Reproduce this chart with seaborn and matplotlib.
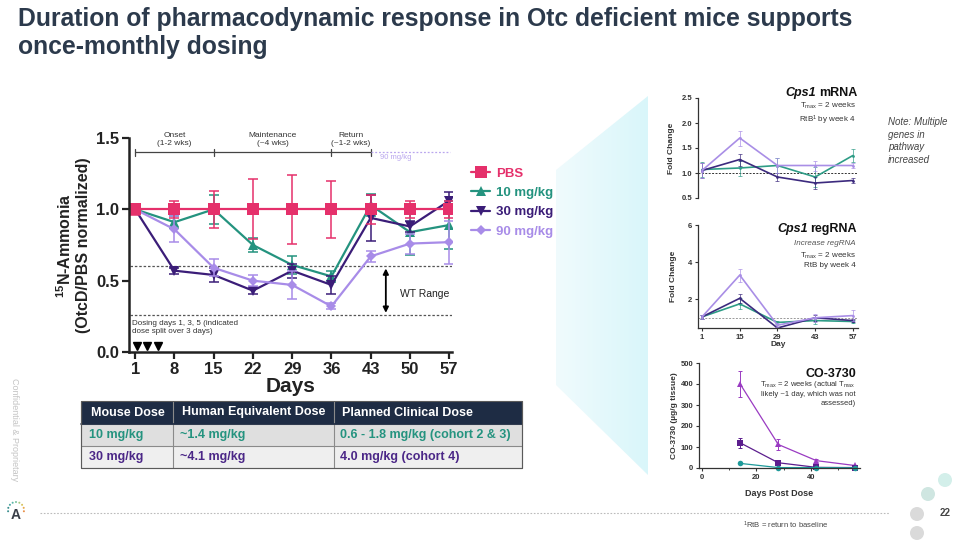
import numpy as np
import pandas as pd
import matplotlib
matplotlib.use("Agg")
import matplotlib.pyplot as plt
import seaborn as sns
from matplotlib.patches import Polygon, Rectangle, Circle
from matplotlib.colors import LinearSegmentedColormap
from matplotlib.offsetbox import TextArea, HPacker, AnnotationBbox

sns.set_theme(style="ticks")
plt.rcParams['font.family'] = ['Liberation Sans', 'DejaVu Sans']
plt.rcParams['mathtext.fontset'] = 'custom'
plt.rcParams['mathtext.rm'] = 'Liberation Sans'
plt.rcParams['mathtext.it'] = 'Liberation Sans:italic'
plt.rcParams['mathtext.bf'] = 'Liberation Sans:bold'

# ---------------- data: main chart ----------------
days = [1, 8, 15, 22, 29, 36, 43, 50, 57]
pbs = [1.0, 1.0, 1.0, 1.0, 1.0, 1.0, 1.0, 1.0, 1.0]
pbs_err = [0.04, 0.06, 0.13, 0.21, 0.24, 0.20, 0.10, 0.06, 0.06]
mg10 = [1.0, 0.91, 1.0, 0.75, 0.61, 0.53, 1.03, 0.84, 0.89]
mg10_err = [0.03, 0.04, 0.10, 0.05, 0.06, 0.04, 0.08, 0.16, 0.17]
mg30 = [1.0, 0.57, 0.54, 0.43, 0.57, 0.47, 0.94, 0.88, 1.06]
mg30_err = [0.03, 0.02, 0.05, 0.02, 0.05, 0.06, 0.16, 0.04, 0.06]
mg90 = [1.0, 0.86, 0.59, 0.50, 0.47, 0.32, 0.67, 0.76, 0.77]
mg90_err = [0.03, 0.09, 0.06, 0.04, 0.10, 0.02, 0.04, 0.07, 0.15]
series_names = ["PBS", "10 mg/kg", "30 mg/kg", "90 mg/kg"]

# ---------------- data: Cps1 mRNA / regRNA ----------------
rna_days = [1, 15, 29, 43, 57]
mrna_90 = [1.05, 1.70, 1.15, 1.15, 1.15]
mrna_90_err = [0.15, 0.15, 0.15, 0.10, 0.05]
mrna_30 = [1.05, 1.27, 0.92, 0.80, 0.85]
mrna_30_err = [0.15, 0.12, 0.08, 0.12, 0.05]
mrna_10 = [1.07, 1.10, 1.15, 0.92, 1.35]
mrna_10_err = [0.15, 0.15, 0.15, 0.20, 0.13]

reg_90 = [1.05, 3.30, 0.60, 1.00, 1.12]
reg_90_err = [0.10, 0.35, 0.10, 0.20, 0.30]
reg_30 = [1.05, 2.05, 0.45, 1.00, 0.85]
reg_30_err = [0.10, 0.25, 0.08, 0.15, 0.10]
reg_10 = [1.05, 1.75, 0.75, 0.85, 0.80]
reg_10_err = [0.10, 0.30, 0.10, 0.20, 0.10]

# ---------------- data: CO-3730 tissue levels ----------------
pk_days = [14, 28, 42, 56]
pk_90 = [400, 112, 35, 12]
pk_90_err = [60, 25, 6, 3]
pk_30 = [120, 25, 3, 2]
pk_30_err = [25, 6, 1, 1]
pk_10 = [22, 2, 2, 1]
pk_10_err = [4, 1, 1, 1]

# table
table_header = ["Mouse Dose", "Human Equivalent Dose", "Planned Clinical Dose"]
table_rows = [["10 mg/kg", "~1.4 mg/kg", "0.6 - 1.8 mg/kg (cohort 2 & 3)"],
              ["30 mg/kg", "~4.1 mg/kg", "4.0 mg/kg (cohort 4)"]]

C_PBS = "#E5306B"
C_10 = "#24937F"
C_30 = "#3B1D78"
C_90 = "#A88CE8"
TXT = "#222222"

W, H = 960, 556
fig = plt.figure(figsize=(W / 100, H / 100), dpi=100)
fig.patch.set_facecolor("white")

def fa(l, t, r, b):
    return fig.add_axes([l / W, 1 - b / H, (r - l) / W, (b - t) / H])

# overlay for decorations (pixel coords)
ov = fig.add_axes([0, 0, 1, 1], zorder=-1)
ov.set_xlim(0, W)
ov.set_ylim(H, 0)
ov.axis("off")

# cyan trapezoid with gradient
grad = np.linspace(0, 1, 256).reshape(1, -1)
cm = LinearSegmentedColormap.from_list("c", ["#F0FBFD", "#D9F6FA"])
im = ov.imshow(grad, cmap=cm, extent=[556, 648, 475, 96], aspect="auto", zorder=0)
trap = Polygon([[556, 170], [648, 96], [648, 475], [556, 385]], closed=True,
               facecolor="none", edgecolor="none", transform=ov.transData)
ov.add_patch(trap)
im.set_clip_path(trap)

# title
fig.text(18 / W, 1 - 7 / H,
         "Duration of pharmacodynamic response in Otc deficient mice supports\nonce-monthly dosing",
         ha="left", va="top", fontsize=17.8, fontweight="bold", color="#2C3A4C", linespacing=1.2)

# ---------------- main chart ----------------
ax = fa(129, 138, 452, 352)
ax.set_facecolor("none")
specs = [
    (mg10, mg10_err, C_10, "^", 7),
    (mg30, mg30_err, C_30, "v", 7),
    (mg90, mg90_err, C_90, "D", 5.5),
    (pbs, pbs_err, C_PBS, "s", 8),
]
labels_for = {C_PBS: "PBS", C_10: "10 mg/kg", C_30: "30 mg/kg", C_90: "90 mg/kg"}
for vals, err, c, m, ms in specs:
    sns.lineplot(x=days, y=vals, ax=ax, color=c, marker=m, markersize=ms,
                 markeredgewidth=0, linewidth=1.6, label=labels_for[c])
    ax.errorbar(days, vals, yerr=err, fmt="none", ecolor=c, elinewidth=1.1, capsize=3.5, capthick=1.1)

ax.set_xlim(-0.1, 57.5)
ax.set_ylim(0, 1.5)
ax.set_xticks(days)
ax.set_yticks([0.0, 0.5, 1.0, 1.5])
ax.set_yticklabels(["0.0", "0.5", "1.0", "1.5"])
for s in ["top", "right"]:
    ax.spines[s].set_visible(False)
for s in ["left", "bottom"]:
    ax.spines[s].set_linewidth(1.8)
    ax.spines[s].set_color(TXT)
ax.tick_params(axis="both", width=1.6, length=5, labelsize=12, colors=TXT, pad=2)
for t in ax.get_xticklabels() + ax.get_yticklabels():
    t.set_fontweight("bold")
ax.set_xlabel("Days", fontsize=15, fontweight="bold", color=TXT, labelpad=0)
ax.set_ylabel("$\\mathbf{^{15}}$N-Ammonia\n(OtcD/PBS normalized)", fontsize=11.5,
              fontweight="bold", color=TXT, labelpad=4, linespacing=1.15)

# reference lines
ax.plot([0, 57.5], [0.60, 0.60], ls=(0, (2, 1.5)), color="#555555", lw=0.9, zorder=0)
ax.plot([0, 57.5], [0.26, 0.26], ls=(0, (2, 1.5)), color="#555555", lw=0.9, zorder=0)
ax.annotate("", xy=(45.7, 0.255), xytext=(45.7, 0.605),
            arrowprops=dict(arrowstyle="<|-|>", color="black", lw=1.3, mutation_scale=8))
ax.text(48.3, 0.41, "WT Range", fontsize=7.5, color=TXT, va="center", ha="left")

# phase brackets
yb = 1.40
ax.plot([1, 43], [yb, yb], color="#444444", lw=0.9, clip_on=False)
for xv in [1, 15, 36, 43]:
    ax.plot([xv, xv], [yb - 0.025, yb + 0.025], color="#444444", lw=0.9, clip_on=False)
ax.plot([43, 57.2], [yb, yb], color="#B9A6EE", lw=0.9, ls=(0, (1.5, 1.5)), clip_on=False)
ax.text(47.5, 1.36, "90 mg/kg", color="#B9A6EE", fontsize=5.5, ha="center", va="center")
for xc, txt in [(8, "Onset\n(1-2 wks)"), (25.5, "Maintenance\n(~4 wks)"), (39.5, "Return\n(~1-2 wks)")]:
    ax.text(xc, 1.49, txt, ha="center", va="center", fontsize=6, color="#333333",
            linespacing=1.3, clip_on=False)

# dosing annotation
ax.text(0.5, 0.225, "Dosing days 1, 3, 5 (indicated\ndose split over 3 days)", fontsize=5.8,
        color="#333333", ha="left", va="top", linespacing=1.25)
ax.plot([1.3, 3.1, 5.1], [0.04, 0.04, 0.04], ls="none", marker="v", color="black", markersize=5.5, clip_on=False)

# legend
h, l = ax.get_legend_handles_labels()
order = [l.index(n) for n in series_names]
leg = ax.legend([h[i] for i in order], [l[i] for i in order], loc="upper left",
                bbox_to_anchor=(466 / W, 1 - 162 / H), bbox_transform=fig.transFigure,
                frameon=False, handlelength=1.4, handletextpad=0.5,
                labelspacing=0.55, borderaxespad=0, labelcolor="linecolor",
                prop={"weight": "bold", "size": 9.5})

# ---------------- table ----------------
col_x = [81, 173, 334, 522]
row_y = [401, 424, 446, 468]
ov.add_patch(Rectangle((81, 401), 441, 23, facecolor="#1E2C44", edgecolor="none", zorder=1))
ov.add_patch(Rectangle((81, 424), 441, 22, facecolor="#DFDFDF", edgecolor="none", zorder=1))
ov.add_patch(Rectangle((81, 446), 441, 22, facecolor="#EFEFEF", edgecolor="none", zorder=1))
for yy in row_y[1:]:
    ov.plot([81, 522], [yy, yy], color="#8A8A8A", lw=0.8, zorder=2)
for xx in col_x:
    ov.plot([xx, xx], [401, 468], color="#8A8A8A", lw=0.8, zorder=2)
ov.plot([81, 522], [424, 424], color="#1E2C44", lw=1.2, zorder=3)
ov.add_patch(Rectangle((81, 401), 441, 67, facecolor="none", edgecolor="#5A5A5A", lw=0.8, zorder=3))
text_x = [91, 182, 342]
for j, ttxt in enumerate(table_header):
    ov.text(text_x[j], 412.5, ttxt, color="white", fontsize=9, fontweight="bold", va="center", ha="left", zorder=4)
row_colors = [C_10, "#4B2787"]
for i, row in enumerate(table_rows):
    yc = (row_y[i + 1] + row_y[i + 2]) / 2
    for j, ttxt in enumerate(row):
        ov.text(text_x[j] - 2, yc, ttxt, color=row_colors[i], fontsize=9, fontweight="bold",
                va="center", ha="left", zorder=4)

# ---------------- right panels ----------------
def style_small(a, hide_bottom=False):
    a.set_facecolor("none")
    for s in ["top", "right"]:
        a.spines[s].set_visible(False)
    for s in ["left", "bottom"]:
        a.spines[s].set_linewidth(0.9)
        a.spines[s].set_color("#333333")
    if hide_bottom:
        a.spines["bottom"].set_visible(False)
        a.tick_params(axis="x", bottom=False, labelbottom=False)
    a.tick_params(axis="both", width=0.8, length=2.5, labelsize=5.5, colors="#333333", pad=1.5)
    for t in a.get_xticklabels() + a.get_yticklabels():
        t.set_fontweight("bold")

def draw_rna(a, dd, sets):
    for vals, err, c in sets:
        sns.lineplot(x=dd, y=vals, ax=a, color=c, linewidth=1.2, marker="o", markersize=2,
                     markeredgewidth=0)
        a.errorbar(dd, vals, yerr=err, fmt="none", ecolor=c, elinewidth=0.6, capsize=1.5, capthick=0.6, alpha=0.8)

def panel_title(x_px, y_px, italic_part, rest):
    ta1 = TextArea(italic_part, textprops=dict(fontsize=9, fontweight="bold", style="italic", color="#111111"))
    ta2 = TextArea(rest, textprops=dict(fontsize=9, fontweight="bold", color="#111111"))
    pk = HPacker(children=[ta1, ta2], pad=0, sep=1.8, align="baseline")
    ab = AnnotationBbox(pk, (x_px / W, 1 - y_px / H), xycoords="figure fraction",
                        box_alignment=(1, 0.5), frameon=False, pad=0)
    fig.add_artist(ab)

# panel 1: Cps1 mRNA
a1 = fa(698, 98, 858, 198)
a1.axhline(1.0, color="#333333", lw=0.7, ls=(0, (2, 1.5)), zorder=0)
draw_rna(a1, rna_days, [(mrna_10, mrna_10_err, "#2E9C86"), (mrna_30, mrna_30_err, "#3C2A7E"),
                        (mrna_90, mrna_90_err, "#A98EE6")])
a1.set_xlim(-0.5, 58.9)
a1.set_ylim(0.5, 2.5)
a1.set_yticks([0.5, 1.0, 1.5, 2.0, 2.5])
a1.set_yticklabels(["0.5", "1.0", "1.5", "2.0", "2.5"])
a1.set_ylabel("Fold Change", fontsize=6, fontweight="bold", color="#333333", labelpad=5)
style_small(a1, hide_bottom=True)
panel_title(857, 93, "Cps1", "mRNA")
fig.text(856 / W, 1 - 114 / H, "T$_{\\rm max}$ = 2 weeks\nRtB$^{1}$ by week 4", fontsize=5.8, ha="right",
         va="center", color="#333333", linespacing=1.25)
fig.text(888 / W, 1 - 141 / H, "Note: Multiple\ngenes in\npathway\nincreased", fontsize=7, style="italic",
         ha="left", va="center", color="#444444", linespacing=1.3)

# panel 2: Cps1 regRNA
a2 = fa(698, 225, 858, 328)
a2.axhline(1.0, color="#999999", lw=0.7, ls=(0, (2, 1.5)), zorder=0)
draw_rna(a2, rna_days, [(reg_10, reg_10_err, "#2E9C86"), (reg_30, reg_30_err, "#3C2A7E"),
                        (reg_90, reg_90_err, "#A98EE6")])
a2.set_xlim(-0.5, 58.9)
a2.set_ylim(0.45, 6)
a2.set_yticks([2, 4, 6])
a2.set_xticks(rna_days)
a2.set_ylabel("Fold Change", fontsize=6, fontweight="bold", color="#333333", labelpad=8)
a2.set_xlabel("Day", fontsize=6, fontweight="bold", color="#333333", labelpad=0)
style_small(a2)
panel_title(857, 229, "Cps1", "regRNA")
fig.text(856 / W, 1 - 244 / H, "Increase regRNA", fontsize=5.8, style="italic", ha="right", va="center", color="#555555")
fig.text(856 / W, 1 - 260 / H, "T$_{\\rm max}$ = 2 weeks\nRtB by week 4", fontsize=5.8, ha="right",
         va="center", color="#333333", linespacing=1.25)

# panel 3: CO-3730
a3 = fa(699, 363, 860, 468)
sns.lineplot(x=pk_days, y=pk_90, ax=a3, color="#9A3BC2", marker="^", markersize=4.5, markeredgewidth=0, linewidth=0.9)
a3.errorbar(pk_days, pk_90, yerr=pk_90_err, fmt="none", ecolor="#9A3BC2", elinewidth=0.7, capsize=1.5, capthick=0.7)
sns.lineplot(x=pk_days, y=pk_30, ax=a3, color="#5C1E8E", marker="s", markersize=4.5, markeredgewidth=0, linewidth=0.9)
a3.errorbar(pk_days, pk_30, yerr=pk_30_err, fmt="none", ecolor="#5C1E8E", elinewidth=0.7, capsize=1.5, capthick=0.7)
sns.lineplot(x=pk_days, y=pk_10, ax=a3, color="#1E9A9A", marker="o", markersize=4, markeredgewidth=0, linewidth=0.9)
for ln in a3.lines:
    ln.set_clip_on(False)
a3.set_xlim(-1.1, 58)
a3.set_ylim(0, 500)
a3.set_yticks([0, 100, 200, 300, 400, 500])
a3.set_xticks([0, 20, 40])
a3.set_xticks([10, 30, 50], minor=True)
a3.tick_params(axis="x", which="minor", length=1.5, width=0.6)
a3.set_ylabel("CO-3730 (µg/g tissue)", fontsize=6, fontweight="bold", color="#333333", labelpad=2)
a3.set_xlabel("Days Post Dose", fontsize=6.5, fontweight="bold", color="#333333", labelpad=6)
style_small(a3)
fig.text(856 / W, 1 - 374 / H, "CO-3730", fontsize=9, fontweight="bold", ha="right", va="center", color="#111111")
fig.text(856 / W, 1 - 393 / H, "T$_{\\rm max}$ = 2 weeks (actual T$_{\\rm max}$\nlikely ~1 day, which was not\nassessed)",
         fontsize=5.5, ha="right", va="center", color="#333333", linespacing=1.25)

# ---------------- footer / decorations ----------------
ov.plot([40, 890], [513, 513], color="#BBBBBB", lw=0.8, ls=(0, (1.5, 1.5)))
ov.text(786, 525, "$^{1}$RtB = return to baseline", fontsize=5.5, color="#444444", ha="center", va="center")
ov.text(945, 513, "22", fontsize=7, fontweight="bold", color="#444444", ha="center", va="center")
for (cx, cy, col) in [(945, 480, "#D3EFEA"), (928, 494, "#CFE6E1"), (917, 514, "#DADADA"), (917, 533, "#DADADA")]:
    ov.add_patch(Circle((cx, cy), 7, facecolor=col, edgecolor="none"))
ov.text(14, 430, "Confidential & Proprietary", rotation=-90, fontsize=6.5, color="#C4C4C4",
        ha="center", va="center")
# logo
ov.text(16, 515, "A", fontsize=10, color="#3A3F48", ha="center", va="center", fontweight="bold")
ang = np.linspace(np.pi * 1.05, -0.05 * np.pi, 9)
dot_cols = ["#3B8F8F", "#3B8F8F", "#4AA7A0", "#5BB6A8", "#7CC3A0", "#A7C97E", "#D6C25A", "#E8A94A", "#E88F48"]
for a_, dc in zip(ang, dot_cols):
    ov.add_patch(Circle((16 + 8 * np.cos(a_), 510 - 8 * np.sin(a_)), 1.0, facecolor=dc, edgecolor="none"))

fig.savefig("out.png", dpi=100)
